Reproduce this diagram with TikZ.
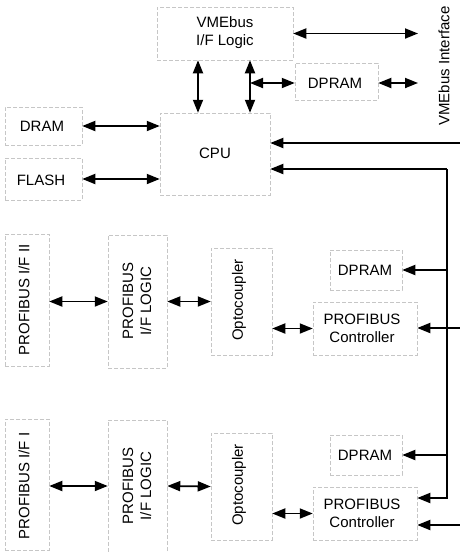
\documentclass[tikz,border=0pt]{standalone}
\usepackage{fontspec}
\setmainfont{Liberation Sans}
\usetikzlibrary{arrows.meta}
\begin{document}
\begin{tikzpicture}[x=1pt,y=-1pt,
  box/.style={draw=gray!45, line width=0.5pt, dash pattern=on 4pt off 2pt, inner sep=0pt, align=center},
  lbl/.style={inner sep=0pt, align=center, font=\fontsize{15}{18}\selectfont},
  vlbl/.style={lbl, rotate=90},
  dbl/.style={line width=1.8pt, {Triangle[length=13pt,width=10pt]}-{Triangle[length=13pt,width=10pt]}},
  arr/.style={line width=1.8pt, -{Triangle[length=13pt,width=10pt]}},
  ]
\useasboundingbox (0,0) rectangle (460,552);
% top part
\node[box, minimum width=136pt, minimum height=53pt] (vme) at (225,33.5) {};
\node[lbl] (vmet) at (225,33) {VMEbus\\I/F Logic};
\node[box, minimum width=83pt, minimum height=37pt] (dpram0) at (336.5,81.5) {};
\node[lbl] (dpram0t) at (335,83) {DPRAM};
\node[box, minimum width=110pt, minimum height=82pt] (cpu) at (215,154) {};
\node[lbl] (cput) at (215,153) {CPU};
\node[box, minimum width=77pt, minimum height=38pt] (dram) at (43.5,126) {};
\node[lbl] (dramt) at (42,126) {DRAM};
\node[box, minimum width=77pt, minimum height=42pt] (flash) at (43.5,179) {};
\node[lbl] (flasht) at (41,180) {FLASH};
\node[vlbl] (vmeif) at (444,66) {VMEbus Interface};
% upper profibus
\node[box, minimum width=44pt, minimum height=132pt] (pif2) at (27,300) {};
\node[vlbl] (pif2t) at (24,300) {PROFIBUS I/F II};
\node[box, minimum width=59pt, minimum height=133pt] (logic1) at (137.5,301.5) {};
\node[vlbl] (logic1t) at (137,301) {PROFIBUS\\I/F LOGIC};
\node[box, minimum width=61pt, minimum height=107pt] (opto1) at (241.5,301.5) {};
\node[vlbl] (opto1t) at (239,300) {Optocoupler};
\node[box, minimum width=72pt, minimum height=40pt] (dpram1) at (366,270) {};
\node[lbl] (dpram1t) at (365,270) {DPRAM};
\node[box, minimum width=104pt, minimum height=53pt] (ctrl1) at (365,328.5) {};
\node[lbl] (ctrl1t) at (362,328) {PROFIBUS\\Controller};
% lower profibus
\node[box, minimum width=44pt, minimum height=131pt] (pif1) at (27,484.5) {};
\node[vlbl] (pif1t) at (24,486) {PROFIBUS I/F I};
\node[box, minimum width=59pt, minimum height=132pt] (logic2) at (137.5,486) {};
\node[vlbl] (logic2t) at (137,486) {PROFIBUS\\I/F LOGIC};
\node[box, minimum width=61pt, minimum height=107pt] (opto2) at (241.5,486.5) {};
\node[vlbl] (opto2t) at (239,485) {Optocoupler};
\node[box, minimum width=72pt, minimum height=40pt] (dpram2) at (366,455) {};
\node[lbl] (dpram2t) at (365,455) {DPRAM};
\node[box, minimum width=104pt, minimum height=53pt] (ctrl2) at (365,513.5) {};
\node[lbl] (ctrl2t) at (362,513) {PROFIBUS\\Controller};
% coordinates
\coordinate (v1) at (198,0);
\coordinate (v2) at (250,0);
\coordinate (br) at (250,83);
\coordinate (vr1) at (418,33);
\coordinate (vr2) at (418,83);
\coordinate (edge1) at (461,143);
\coordinate (edge2) at (461,328);
\coordinate (edge3) at (461,525);
\coordinate (busT) at (447,169);
\coordinate (busB) at (447,498);
% connectors top
\draw[dbl] (vme.east) -- (vr1 |- vme.east);
\draw[dbl] (vme.south -| v1) -- (cpu.north -| v1);
\draw[dbl] (vme.south -| v2) -- (cpu.north -| v2);
\draw[dbl] (br) -- (dpram0.west |- br);
\draw[dbl] (dpram0.east |- br) -- (vr2);
\draw[dbl] (dram.east) -- (cpu.west |- dram.east);
\draw[dbl] (flash.east) -- (cpu.west |- flash.east);
\draw[arr] (edge1) -- (cpu.east |- edge1);
\draw[arr] (busT) -- (cpu.east |- busT);
\draw[arr] (busT) -- (busB) -- (ctrl2.east |- busB);
\draw[arr] (busT |- dpram1.east) -- (dpram1.east);
\draw[arr] (busT |- dpram2.east) -- (dpram2.east);
\draw[arr] (edge2) -- (ctrl1.east |- edge2);
\draw[arr] (edge3) -- (ctrl2.east |- edge3);
% profibus chains
\draw[dbl] (pif2.east |- logic1.west) -- (logic1.west);
\draw[dbl] (logic1.east) -- (opto1.west);
\draw[dbl] (opto1.east |- ctrl1.west) -- (ctrl1.west);
\draw[dbl] (pif1.east |- logic2.west) -- (logic2.west);
\draw[dbl] (logic2.east) -- (opto2.west);
\draw[dbl] (opto2.east |- ctrl2.west) -- (ctrl2.west);
\end{tikzpicture}
\end{document}
